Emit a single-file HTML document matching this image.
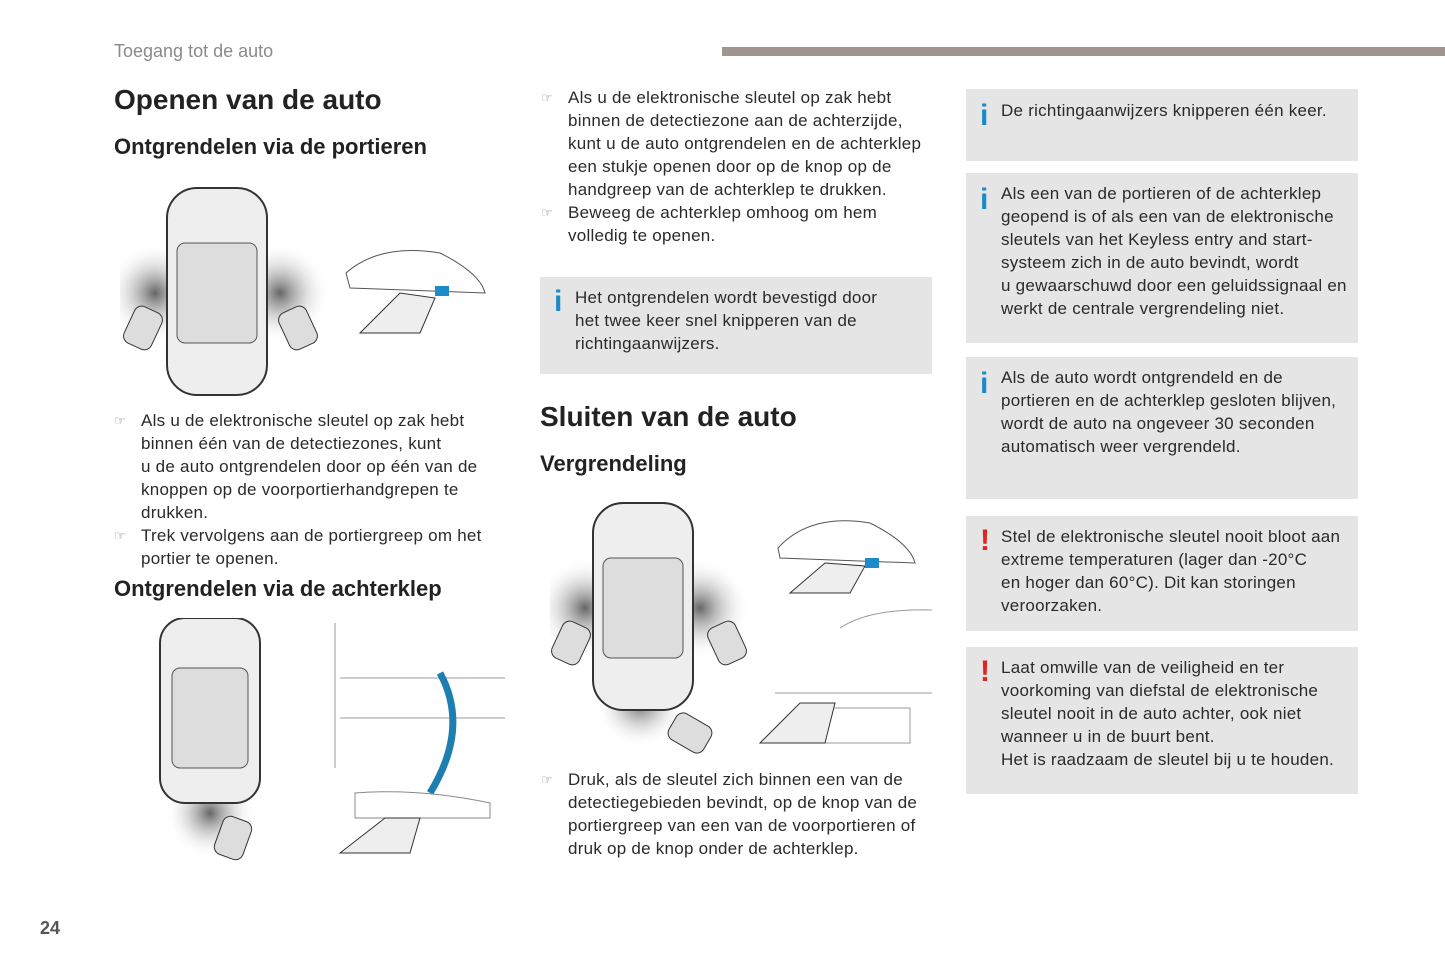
<!DOCTYPE html>
<html><head><meta charset="utf-8">
<style>
*{margin:0;padding:0;box-sizing:border-box}
body{width:1445px;height:964px;background:#fff;font-family:"Liberation Sans",sans-serif;color:#2a2a2a;position:relative;overflow:hidden}
.a{position:absolute}
.hdr{left:114px;top:41px;font-size:18px;color:#8a8a8a}
.bar{left:722px;top:47px;width:723px;height:9px;background:#a1958f}
h1{position:absolute;font-size:28px;font-weight:bold;color:#222}
h2{position:absolute;font-size:22px;font-weight:bold;color:#222}
.t{position:absolute;font-size:17px;line-height:23px;white-space:nowrap;letter-spacing:0.25px}
.b{position:relative;padding-left:27px}
.b:before{content:"☞";position:absolute;left:0;top:0;font-size:13px;color:#777}
.box{position:absolute;background:#e5e5e5}
.box .t{left:35px}
.ic{position:absolute;left:14px;width:8px;font-weight:bold;font-size:30px;line-height:30px}
.i{color:#1e8bc9}
.x{color:#e2231a}
.pg{left:40px;top:918px;font-size:18px;font-weight:bold;color:#555}
</style></head><body>
<div class="a hdr">Toegang tot de auto</div>
<div class="a bar"></div>

<h1 style="left:114px;top:84px">Openen van de auto</h1>
<h2 style="left:114px;top:134px">Ontgrendelen via de portieren</h2>

<svg class="a" style="left:120px;top:183px" width="380" height="220">
<defs><radialGradient id="g"><stop offset="0" stop-color="#666"/><stop offset="1" stop-color="#fff" stop-opacity="0"/></radialGradient></defs>
<circle cx="35" cy="110" r="50" fill="url(#g)"/><circle cx="160" cy="110" r="50" fill="url(#g)"/>
<rect x="47" y="5" width="100" height="207" rx="30" fill="#eee" stroke="#333" stroke-width="2"/>
<rect x="57" y="60" width="80" height="100" rx="8" fill="#ddd" stroke="#555"/>
<rect x="8" y="125" width="30" height="40" rx="8" fill="#ddd" stroke="#333" transform="rotate(25 23 145)"/>
<rect x="163" y="125" width="30" height="40" rx="8" fill="#ddd" stroke="#333" transform="rotate(-25 178 145)"/>
<path d="M226 90 Q260 60 320 70 Q360 90 365 110 L230 105Z" fill="none" stroke="#555"/>
<path d="M240 150 L280 110 L315 115 L300 150Z" fill="#eee" stroke="#333"/>
<rect x="315" y="103" width="14" height="10" fill="#1e8bc9"/>
</svg>

<div class="t" style="left:114px;top:409px">
<div class="b">Als u de elektronische sleutel op zak hebt<br>binnen één van de detectiezones, kunt<br>u de auto ontgrendelen door op één van de<br>knoppen op de voorportierhandgrepen te<br>drukken.</div>
<div class="b">Trek vervolgens aan de portiergreep om het<br>portier te openen.</div>
</div>
<h2 style="left:114px;top:576px">Ontgrendelen via de achterklep</h2>

<svg class="a" style="left:140px;top:618px" width="370" height="245">
<circle cx="70" cy="195" r="45" fill="url(#g)"/>
<rect x="20" y="0" width="100" height="185" rx="25" fill="#eee" stroke="#333" stroke-width="2"/>
<rect x="32" y="50" width="76" height="100" rx="8" fill="#ddd" stroke="#555"/>
<rect x="78" y="200" width="30" height="40" rx="8" fill="#ddd" stroke="#333" transform="rotate(20 93 220)"/>
<path d="M195 150 L195 5 M200 60 L365 60 M200 100 L365 100" stroke="#999" fill="none"/>
<path d="M300 55 Q330 110 290 175" stroke="#1c7fb0" stroke-width="7" fill="none"/>
<path d="M215 175 Q280 170 350 185 L350 200 L215 200Z" fill="none" stroke="#888"/>
<path d="M200 235 L245 200 L280 200 L270 235Z" fill="#eee" stroke="#333"/>
</svg>

<div class="t" style="left:541px;top:86px">
<div class="b">Als u de elektronische sleutel op zak hebt<br>binnen de detectiezone aan de achterzijde,<br>kunt u de auto ontgrendelen en de achterklep<br>een stukje openen door op de knop op de<br>handgreep van de achterklep te drukken.</div>
<div class="b">Beweeg de achterklep omhoog om hem<br>volledig te openen.</div>
</div>
<div class="box" style="left:540px;top:277px;width:392px;height:97px">
<div class="ic i" style="top:10px">i</div>
<div class="t" style="top:9px">Het ontgrendelen wordt bevestigd door<br>het twee keer snel knipperen van de<br>richtingaanwijzers.</div>
</div>

<h1 style="left:540px;top:401px">Sluiten van de auto</h1>
<h2 style="left:540px;top:451px">Vergrendeling</h2>

<svg class="a" style="left:550px;top:498px" width="385" height="260">
<circle cx="35" cy="110" r="50" fill="url(#g)"/><circle cx="150" cy="110" r="50" fill="url(#g)"/><circle cx="90" cy="205" r="45" fill="url(#g)"/>
<rect x="43" y="5" width="100" height="207" rx="30" fill="#eee" stroke="#333" stroke-width="2"/>
<rect x="53" y="60" width="80" height="100" rx="8" fill="#ddd" stroke="#555"/>
<rect x="6" y="125" width="30" height="40" rx="8" fill="#ddd" stroke="#333" transform="rotate(25 21 145)"/>
<rect x="162" y="125" width="30" height="40" rx="8" fill="#ddd" stroke="#333" transform="rotate(-25 177 145)"/>
<rect x="125" y="215" width="30" height="40" rx="8" fill="#ddd" stroke="#333" transform="rotate(-60 140 235)"/>
<path d="M228 50 Q260 15 320 25 Q360 45 365 65 L230 60Z" fill="none" stroke="#555"/>
<path d="M240 95 L275 65 L315 68 L300 95Z" fill="#eee" stroke="#333"/>
<rect x="315" y="60" width="14" height="10" fill="#1e8bc9"/>
<path d="M290 130 Q320 110 382 112 M225 195 L382 195 M260 210 L360 210 L360 245 L260 245" stroke="#999" fill="none"/>
<path d="M210 245 L250 205 L285 205 L275 245Z" fill="#eee" stroke="#333"/>
</svg>

<div class="t" style="left:541px;top:768px">
<div class="b">Druk, als de sleutel zich binnen een van de<br>detectiegebieden bevindt, op de knop van de<br>portiergreep van een van de voorportieren of<br>druk op de knop onder de achterklep.</div>
</div>

<div class="box" style="left:966px;top:89px;width:392px;height:72px">
<div class="ic i" style="top:12px">i</div>
<div class="t" style="top:10px">De richtingaanwijzers knipperen één keer.</div>
</div>
<div class="box" style="left:966px;top:173px;width:392px;height:170px">
<div class="ic i" style="top:12px">i</div>
<div class="t" style="top:9px">Als een van de portieren of de achterklep<br>geopend is of als een van de elektronische<br>sleutels van het Keyless entry and start-<br>systeem zich in de auto bevindt, wordt<br>u gewaarschuwd door een geluidssignaal en<br>werkt de centrale vergrendeling niet.</div>
</div>
<div class="box" style="left:966px;top:357px;width:392px;height:142px">
<div class="ic i" style="top:12px">i</div>
<div class="t" style="top:9px">Als de auto wordt ontgrendeld en de<br>portieren en de achterklep gesloten blijven,<br>wordt de auto na ongeveer 30 seconden<br>automatisch weer vergrendeld.</div>
</div>
<div class="box" style="left:966px;top:516px;width:392px;height:115px">
<div class="ic x" style="top:10px">!</div>
<div class="t" style="top:9px">Stel de elektronische sleutel nooit bloot aan<br>extreme temperaturen (lager dan -20°C<br>en hoger dan 60°C). Dit kan storingen<br>veroorzaken.</div>
</div>
<div class="box" style="left:966px;top:647px;width:392px;height:147px">
<div class="ic x" style="top:10px">!</div>
<div class="t" style="top:9px">Laat omwille van de veiligheid en ter<br>voorkoming van diefstal de elektronische<br>sleutel nooit in de auto achter, ook niet<br>wanneer u in de buurt bent.<br>Het is raadzaam de sleutel bij u te houden.</div>
</div>

<div class="a pg">24</div>
</body></html>
